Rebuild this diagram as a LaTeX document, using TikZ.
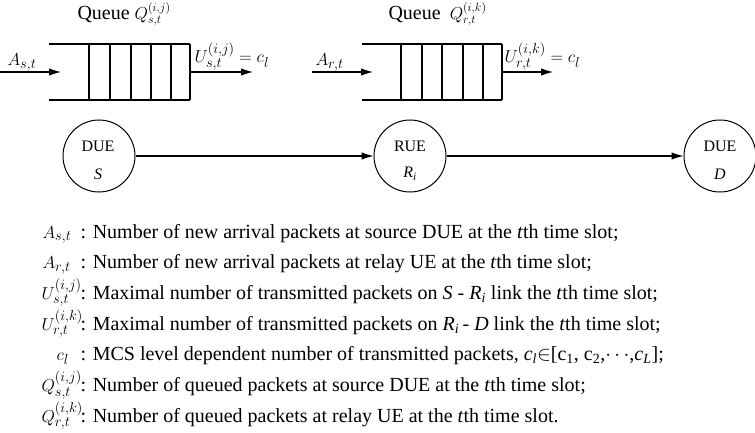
\documentclass[tikz,border=0pt]{standalone}
\usepackage{fontspec}
\setmainfont{Liberation Serif}
\usetikzlibrary{arrows.meta}
\begin{document}
\begin{tikzpicture}[x=1pt,y=-1pt,
  line width=1.1pt,
  arr/.style={-{Latex[length=12pt,width=7.5pt]}},
  circ/.style={draw,circle,minimum size=72pt,inner sep=0pt,line width=1pt},
  txt/.style={anchor=base west,inner sep=0pt,font=\fontsize{20}{24}\selectfont},
  ctxt/.style={anchor=base,inner sep=0pt,font=\fontsize{16}{19}\selectfont},
  mth/.style={anchor=base west,inner sep=0pt,font=\fontsize{19}{23}\selectfont}
]
\useasboundingbox (0,0) rectangle (755,433);

% ---------- queue 1 ----------
\node[txt] (ql1) at (77,20) {Queue \fontsize{18}{21}\selectfont$Q_{s,t}^{(i,j)}$};
\draw (49,44) -- (190,44);
\draw (49,100) -- (190,100);
\foreach \x in {89,110,131,151,171,190} \draw (\x,44) -- (\x,100);
\coordinate (a1s) at (0,72);
\coordinate (a1e) at (61,72);
\coordinate (u1s) at (190,72);
\coordinate (u1e) at (253,72);
\draw[arr] (a1s) -- (a1e);
\draw[arr] (u1s) -- (u1e);
\node[mth] (al1) at (7,66) {$A_{s,t}$};
\node[mth] (ul1) at (194,63) {$U_{s,t}^{(i,j)}=c_l$};

% ---------- queue 2 ----------
\node[txt] (ql2) at (388,20) {Queue\hspace{9pt}\fontsize{18}{21}\selectfont$Q_{r,t}^{(i,k)}$};
\draw (362,44) -- (502,44);
\draw (362,100) -- (502,100);
\foreach \x in {401,422,442,463,483,502} \draw (\x,44) -- (\x,100);
\coordinate (a2s) at (312,72);
\coordinate (a2e) at (373,72);
\coordinate (u2s) at (502,72);
\coordinate (u2e) at (553,72);
\draw[arr] (a2s) -- (a2e);
\draw[arr] (u2s) -- (u2e);
\node[mth] (al2) at (315,66) {$A_{r,t}$};
\node[mth] (ul2) at (504,63) {$U_{r,t}^{(i,k)}=c_l$};

% ---------- nodes ----------
\node[circ] (S) at (99,156) {};
\node[circ] (R) at (410,156) {};
\node[circ] (D) at (720,156) {};
\node[ctxt] (S1) at (98,151.5) {DUE};
\node[ctxt] (S2) at (98,179) {\textit{S}};
\node[ctxt] (R1) at (410,151.5) {RUE};
\node[ctxt] (R2) at (410,178) {\textit{R}\textsubscript{\textit{i}}};
\node[ctxt] (D1) at (720,151.5) {DUE};
\node[ctxt] (D2) at (720,179) {\textit{D}};
\draw[arr] (S) -- (R);
\draw[arr] (R) -- (D);

% ---------- legend ----------
\node[mth] (l1s) at (42,238) {$A_{s,t}$};
\node[txt] (l1t) at (80,238) {: Number of new arrival packets at source DUE at the \textit{t}th time slot;};
\node[mth] (l2s) at (42,268.7) {$A_{r,t}$};
\node[txt] (l2t) at (80,268.7) {: Number of new arrival packets at relay UE at the \textit{t}th time slot;};
\node[mth] (l3s) at (41,299.4) {$U_{s,t}^{(i,j)}$};
\node[txt] (l3t) at (80,299.4) {: Maximal number of transmitted packets on \textit{S} - \textit{R}\textsubscript{\textit{i}} link the \textit{t}th time slot;};
\node[mth] (l4s) at (41,330.1) {$U_{r,t}^{(i,k)}$};
\node[txt] (l4t) at (80,330.1) {: Maximal number of transmitted packets on \textit{R}\textsubscript{\textit{i}}\,- \textit{D} link the \textit{t}th time slot;};
\node[mth] (l5s) at (56,360.8) {$c_l$};
\node[txt] (l5t) at (80,360.8) {: MCS level dependent number of transmitted packets, \textit{c}\textsubscript{\textit{l}}$\in$[c\textsubscript{1}, c\textsubscript{2},$\cdots$,\textit{c}\textsubscript{\textit{L}}];};
\node[mth] (l6s) at (41,391.5) {$Q_{s,t}^{(i,j)}$};
\node[txt] (l6t) at (80,391.5) {: Number of queued packets at source DUE at the \textit{t}th time slot;};
\node[mth] (l7s) at (41,422.2) {$Q_{r,t}^{(i,k)}$};
\node[txt] (l7t) at (80,422.2) {: Number of queued packets at relay UE at the \textit{t}th time slot.};
\end{tikzpicture}
\end{document}
